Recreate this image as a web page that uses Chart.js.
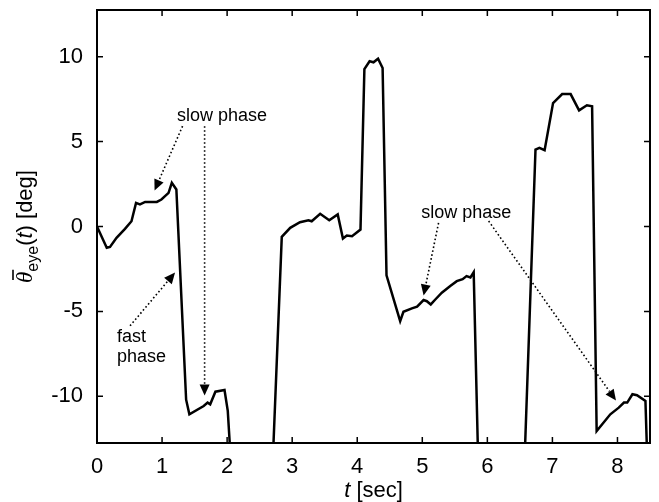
<!DOCTYPE html>
<html>
<head>
<meta charset="utf-8">
<script src="https://cdn.jsdelivr.net/npm/chart.js@4/dist/chart.umd.min.js"></script>
<style>
html,body{margin:0;padding:0;background:#fff;}
canvas{display:block;}
</style>
</head>
<body>
<canvas id="c" width="659" height="502"></canvas>
<script>
// time (s) and mean eye angle (deg); values below -12.75 fall off the plotted range
const timeSec = [0,0.15,0.2,0.3,0.43,0.53,0.6,0.66,0.74,0.92,0.99,1.1,1.15,1.22,1.37,1.42,1.64,1.70,1.74,1.82,1.96,2.01,2.06,
  2.70,2.84,2.97,3.12,3.25,3.30,3.43,3.57,3.70,3.78,3.84,3.92,4.05,4.11,4.19,4.25,4.32,4.39,4.45,4.66,4.71,4.84,4.92,5.02,5.07,5.13,5.2,5.3,5.43,5.53,5.62,5.68,5.74,5.79,5.86,
  6.57,6.74,6.80,6.88,7.01,7.15,7.28,7.41,7.53,7.61,7.68,7.89,8.02,8.10,8.15,8.23,8.30,8.43,8.46];
const eyeDeg = [0,-1.25,-1.2,-0.67,-0.14,0.31,1.39,1.3,1.45,1.45,1.59,1.98,2.57,2.18,-10.2,-11.06,-10.57,-10.37,-10.47,-9.73,-9.63,-10.86,-14,
  -14,-0.61,-0.08,0.25,0.37,0.31,0.75,0.37,0.71,-0.71,-0.53,-0.57,-0.18,9.27,9.73,9.67,9.88,9.33,-2.88,-5.57,-5.02,-4.82,-4.72,-4.33,-4.4,-4.59,-4.3,-3.9,-3.5,-3.22,-3.1,-2.92,-3.0,-2.69,-14,
  -14,4.53,4.63,4.49,7.27,7.8,7.8,6.84,7.14,7.08,-12.04,-11.06,-10.67,-10.37,-10.37,-9.88,-9.94,-10.27,-14];
const xTicks = [0,1,2,3,4,5,6,7,8];
const yTicks = [-10,-5,0,5,10];
const xRange = [0, 8.5];
const yRange = [-12.75, 12.75];

// annotation texts and arrows (in data units)
const noteTexts = ["slow phase", "fast", "phase", "slow phase"];
const noteAt = [[1.923, 6.21, "center"], [0.308, -6.8, "left"], [0.308, -7.97, "left"], [5.677, 0.5, "center"]];
const arrowFrom = [[1.315, 5.91], [1.654, 5.91], [0.508, -5.85], [5.25, 0.21], [6.02, 0.32]];
const arrowTo   = [[0.885, 2.12], [1.654, -9.95], [1.2, -2.71], [5.02, -4.07], [7.977, -10.25]];

const FONT = '"Liberation Sans", Arial, sans-serif';

const data = {
  datasets: [{
    data: timeSec.map((t, i) => ({x: t, y: eyeDeg[i]})),
    borderColor: '#000',
    borderWidth: 2.5,
    pointRadius: 0,
    tension: 0,
    fill: false,
    showLine: true
  }]
};

function arrow(ctx, x1, y1, x2, y2) {
  const ang = Math.atan2(y2 - y1, x2 - x1);
  const L = 11, W = 5;
  const bx = x2 - L * Math.cos(ang), by = y2 - L * Math.sin(ang);
  ctx.save();
  ctx.setLineDash([1.6, 2.4]);
  ctx.lineWidth = 1.6;
  ctx.beginPath(); ctx.moveTo(x1, y1); ctx.lineTo(bx, by); ctx.stroke();
  ctx.setLineDash([]);
  ctx.beginPath();
  ctx.moveTo(x2, y2);
  ctx.lineTo(bx + W * Math.sin(ang), by - W * Math.cos(ang));
  ctx.lineTo(bx - W * Math.sin(ang), by + W * Math.cos(ang));
  ctx.closePath(); ctx.fill();
  ctx.restore();
}

const decor = {
  id: 'decor',
  afterDraw(chart) {
    const ctx = chart.ctx, a = chart.chartArea;
    const xs = chart.scales.x, ys = chart.scales.y;
    ctx.save();
    ctx.strokeStyle = '#000'; ctx.fillStyle = '#000';
    ctx.lineWidth = 2;
    ctx.strokeRect(a.left, a.top, a.right - a.left, a.bottom - a.top);
    ctx.lineWidth = 1.5;
    const tl = 6;
    ctx.beginPath();
    xTicks.forEach(v => {
      const p = xs.getPixelForValue(v);
      ctx.moveTo(p, a.bottom); ctx.lineTo(p, a.bottom - tl);
      ctx.moveTo(p, a.top); ctx.lineTo(p, a.top + tl);
    });
    yTicks.forEach(v => {
      const p = ys.getPixelForValue(v);
      ctx.moveTo(a.left, p); ctx.lineTo(a.left + tl, p);
      ctx.moveTo(a.right, p); ctx.lineTo(a.right - tl, p);
    });
    ctx.stroke();

    // annotations
    ctx.font = '18px ' + FONT;
    ctx.textBaseline = 'alphabetic';
    noteTexts.forEach((t, i) => {
      const [x, y, al] = noteAt[i];
      ctx.textAlign = al;
      ctx.fillText(t, xs.getPixelForValue(x), ys.getPixelForValue(y));
    });
    arrowFrom.forEach((f, i) => {
      const to = arrowTo[i];
      arrow(ctx, xs.getPixelForValue(f[0]), ys.getPixelForValue(f[1]),
                 xs.getPixelForValue(to[0]), ys.getPixelForValue(to[1]));
    });

    // x title: "t [sec]"
    ctx.textAlign = 'left';
    const it = 'italic 22px ' + FONT, nm = '22px ' + FONT;
    ctx.font = it; const wT = ctx.measureText('t').width;
    ctx.font = nm; const wR = ctx.measureText(' [sec]').width;
    const cx = (a.left + a.right) / 2;
    let x0 = cx - (wT + wR) / 2;
    ctx.font = it; ctx.fillText('t', x0, 497);
    ctx.font = nm; ctx.fillText(' [sec]', x0 + wT, 497);

    // y title: theta-bar_eye(t) [deg]
    const cy = (a.top + a.bottom) / 2;
    ctx.translate(32, cy);
    ctx.rotate(-Math.PI / 2);
    const thF = 'italic 23px "Liberation Serif", serif';
    const subF = '16px ' + FONT;
    const parts = [
      [thF, '\u03B8', 0],
      [subF, 'eye', 6],
      [nm, '(', 0],
      [it, 't', 0],
      [nm, ') [deg]', 0]
    ];
    let W = 0;
    parts.forEach(p => { ctx.font = p[0]; p.push(ctx.measureText(p[1]).width); W += p[3]; });
    let x = -W / 2;
    parts.forEach((p, i) => {
      ctx.font = p[0];
      ctx.fillText(p[1], x, p[2]);
      if (i === 0) {
        ctx.lineWidth = 1.6;
        ctx.beginPath(); ctx.moveTo(x + 3, -19); ctx.lineTo(x + p[3] + 2, -19); ctx.stroke();
      }
      x += p[3];
    });
    ctx.restore();
  }
};

new Chart(document.getElementById('c'), {
  type: 'scatter',
  data,
  plugins: [decor],
  options: {
    responsive: false,
    animation: false,
    layout: {padding: {left: 0, right: 9, top: 10, bottom: 0}},
    plugins: {legend: {display: false}, tooltip: {enabled: false}},
    scales: {
      x: {
        type: 'linear', min: xRange[0], max: xRange[1],
        afterBuildTicks: s => { s.ticks = xTicks.map(v => ({value: v})); },
        afterFit: s => { s.height = 59; s.paddingLeft = 0; s.paddingRight = 0; },
        grid: {display: false},
        border: {display: true, color: '#000', width: 2},
        ticks: {color: '#000', padding: 3, maxRotation: 0, font: {family: FONT, size: 22}}
      },
      y: {
        type: 'linear', min: yRange[0], max: yRange[1],
        afterBuildTicks: s => { s.ticks = yTicks.map(v => ({value: v})); },
        afterFit: s => { s.width = 97; s.paddingTop = 0; s.paddingBottom = 0; },
        grid: {display: false},
        border: {display: true, color: '#000', width: 2},
        ticks: {color: '#000', padding: 6, font: {family: FONT, size: 22}}
      }
    }
  }
});
</script>
</body>
</html>
